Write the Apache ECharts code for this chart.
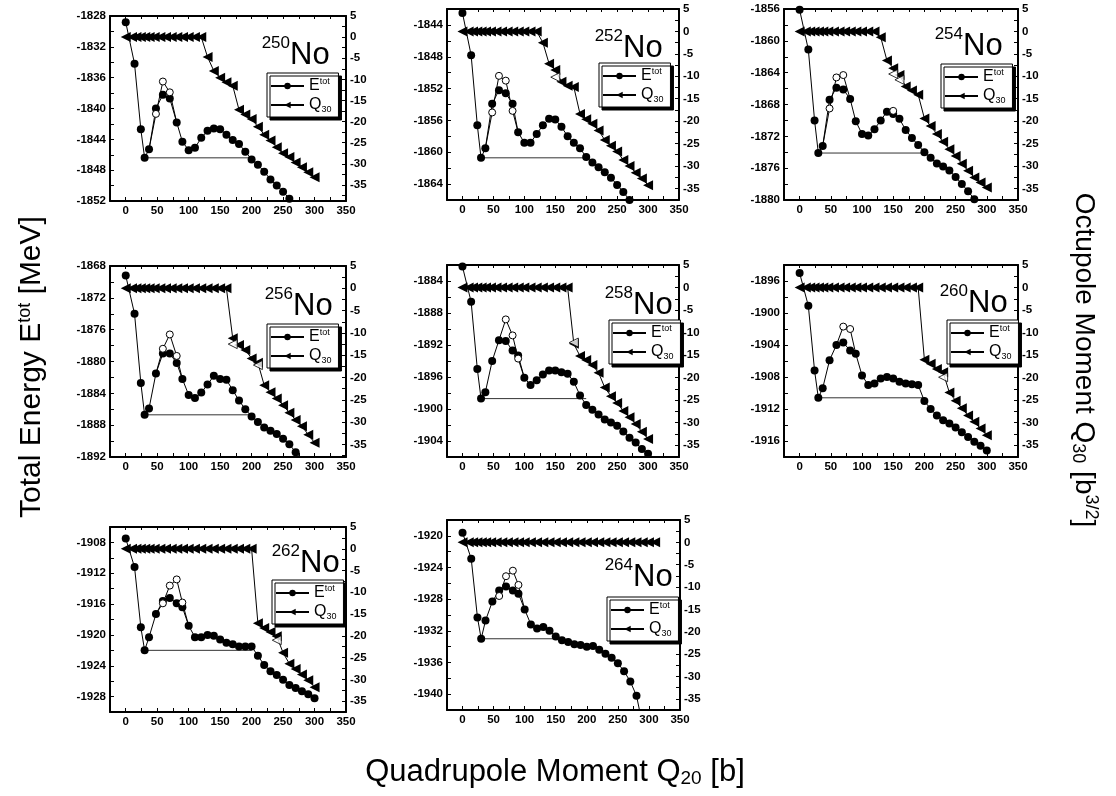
<!DOCTYPE html>
<html><head><meta charset="utf-8">
<script src="https://cdn.jsdelivr.net/npm/echarts@6/dist/echarts.min.js"></script>
<style>html,body{margin:0;padding:0;background:#fff}#c{width:1116px;height:796px}</style>
</head><body><div id="c"></div>
<script>
// ---------- DATA ----------
const X_E = [0,14,24,30,37,48,59,70,81,90,100,110,120,130,140,150,160,170,180,190,200,210,220,230,240,250,260,270,280,290,300];
const X_Q = [0,10,17,24,31,38,46,55,64,73,82,91,100,110,120,130,140,150,160,170,180,190,200,210,220,230,240,250,260,270,280,290,300,310];
const ISOTOPES = ['250','252','254','256','258','260','262','264'];

const E_250 = [-1828.8,-1834.2,-1842.7,-1846.4,-1845.3,-1840.0,-1838.2,-1838.7,-1841.8,-1844.3,-1845.4,-1845.1,-1843.8,-1842.9,-1842.6,-1842.7,-1843.4,-1844.1,-1844.6,-1845.6,-1846.6,-1847.3,-1848.2,-1849.2,-1850.0,-1850.8,-1851.7,-1852.6,-1853.5,-1854.4,-1855.3];
const E_252 = [-1842.5,-1847.8,-1856.6,-1860.7,-1859.5,-1853.9,-1852.2,-1852.6,-1853.9,-1857.5,-1858.8,-1858.8,-1857.7,-1856.6,-1855.8,-1855.9,-1856.8,-1858.0,-1858.8,-1859.5,-1860.6,-1861.3,-1861.9,-1862.5,-1863.2,-1864.1,-1865.0,-1866.0,-1867.0,-1868.0,-1869.0];
const E_254 = [-1856.1,-1861.1,-1870.0,-1874.1,-1873.2,-1867.4,-1865.9,-1866.1,-1867.3,-1870.1,-1871.7,-1871.9,-1871.1,-1870.0,-1868.9,-1869.2,-1869.8,-1871.2,-1872.2,-1873.1,-1874.0,-1874.7,-1875.4,-1875.8,-1876.3,-1877.1,-1878.0,-1878.9,-1879.9,-1881.0,-1882.0];
const E_256 = [-1869.2,-1874.0,-1882.7,-1886.7,-1885.9,-1881.5,-1879.0,-1879.0,-1880.2,-1882.2,-1884.2,-1884.6,-1883.9,-1882.9,-1881.8,-1882.2,-1882.3,-1883.6,-1884.9,-1886.0,-1886.9,-1887.6,-1888.3,-1888.7,-1889.1,-1889.7,-1890.4,-1891.4,-1892.4,-1893.4,-1894.4];
const E_258 = [-1882.2,-1886.6,-1895.0,-1898.7,-1897.9,-1894.0,-1891.4,-1891.5,-1892.7,-1893.3,-1896.1,-1897.0,-1896.4,-1895.7,-1895.2,-1895.2,-1895.4,-1895.6,-1896.6,-1898.3,-1899.5,-1900.1,-1900.7,-1901.3,-1901.7,-1902.1,-1902.8,-1903.6,-1904.2,-1905.0,-1905.6];
const E_260 = [-1895.0,-1899.1,-1907.2,-1910.6,-1909.4,-1905.9,-1904.0,-1903.7,-1904.7,-1905.1,-1907.8,-1909.0,-1908.8,-1908.2,-1908.0,-1908.2,-1908.6,-1908.8,-1908.9,-1909.0,-1911.0,-1912.0,-1912.8,-1913.4,-1913.8,-1914.3,-1914.9,-1915.5,-1916.1,-1916.6,-1917.2];
const E_262 = [-1907.5,-1911.2,-1919.0,-1922.0,-1920.3,-1917.3,-1915.6,-1915.2,-1915.9,-1916.4,-1918.8,-1920.3,-1920.3,-1920.0,-1920.1,-1920.6,-1921.0,-1921.2,-1921.5,-1921.5,-1921.5,-1922.7,-1923.9,-1924.7,-1925.2,-1925.8,-1926.5,-1926.9,-1927.3,-1927.7,-1928.2];
const E_264 = [-1919.6,-1922.9,-1930.3,-1933.0,-1930.7,-1928.3,-1926.9,-1926.4,-1926.9,-1927.3,-1929.3,-1931.2,-1931.7,-1931.5,-1932.0,-1932.7,-1933.2,-1933.4,-1933.7,-1933.8,-1934.0,-1933.9,-1934.4,-1934.9,-1935.4,-1936.1,-1937.1,-1938.4,-1940.2,-1944.0,-1948.0];

// open-circle branches (first and last points join the filled curve)
const OPEN_X_250 = [37,48,59,70,81];       const OPEN_Y_250 = [-1845.3,-1840.7,-1836.5,-1837.9,-1841.8];
const OPEN_X_252 = [37,48,59,70,81,90];    const OPEN_Y_252 = [-1859.5,-1855.0,-1850.4,-1851.0,-1854.8,-1857.5];
const OPEN_X_254 = [37,48,59,70,81];       const OPEN_Y_254 = [-1873.2,-1868.5,-1864.6,-1864.3,-1867.3];
const OPEN_X_256 = [48,59,70,81,90];       const OPEN_Y_256 = [-1881.5,-1878.4,-1876.6,-1879.3,-1882.2];
const OPEN_X_258 = [59,70,81,90,100];      const OPEN_Y_258 = [-1891.4,-1888.8,-1890.8,-1893.7,-1896.1];
const OPEN_X_260 = [59,70,81,90];          const OPEN_Y_260 = [-1904.0,-1901.7,-1902.0,-1905.1];
const OPEN_X_262 = [48,59,70,81,90,100];   const OPEN_Y_262 = [-1917.3,-1915.9,-1913.6,-1912.8,-1915.8,-1918.8];
const OPEN_X_264 = [48,59,70,81,90,100];   const OPEN_Y_264 = [-1928.3,-1927.6,-1925.1,-1924.4,-1926.2,-1929.3];
const OPEN2_X_254 = [140,150,160];         const OPEN2_Y_254 = [-1868.9,-1868.8,-1869.8];

const Q_250 = [0,0,0,0,0,0,0,0,0,0,0,0,0,0,0,-4.7,-8.0,-9.6,-10.7,-11.5,-17.2,-18.3,-19.4,-21.2,-23.1,-24.5,-26.1,-27.5,-28.4,-29.7,-30.8,-32.0,-33.2,null];
const Q_252 = [0,0,0,0,0,0,0,0,0,0,0,0,0,0,0,-2.5,-7.2,-8.6,-11.2,-12.1,-12.4,-18.4,-19.6,-20.6,-22.1,-24.2,-25.5,-26.8,-28.7,-30.0,-31.5,-32.8,-34.3,null];
const Q_254 = [0,0,0,0,0,0,0,0,0,0,0,0,0,0,0,-1.3,-6.5,-8.2,-9.7,-12.3,-13.2,-14.1,-19.4,-21.1,-22.9,-24.6,-26.3,-27.8,-29.5,-31.1,-32.6,-33.7,-34.8,null];
const Q_256 = [0,0,0,0,0,0,0,0,0,0,0,0,0,0,0,0,0,0,0,-11.2,-12.7,-13.8,-15.7,-16.7,-21.7,-23.3,-24.7,-26.2,-27.9,-29.5,-30.9,-32.8,-34.6,null];
const Q_258 = [0,0,0,0,0,0,0,0,0,0,0,0,0,0,0,0,0,0,0,0,-12.5,-15.2,-16.1,-17.2,-18.9,-22.2,-24.1,-25.6,-27.4,-28.8,-30.3,-32.0,-33.6,null];
const Q_260 = [0,0,0,0,0,0,0,0,0,0,0,0,0,0,0,0,0,0,0,0,0,0,-16.0,-16.9,-18.1,-18.8,-23.3,-25.1,-26.8,-28.4,-29.8,-31.3,-32.8,null];
const Q_262 = [0,0,0,0,0,0,0,0,0,0,0,0,0,0,0,0,0,0,0,0,0,0,0,-17.1,-18.2,-19.1,-20.1,-23.9,-26.4,-27.6,-28.9,-30.2,-31.8,null];
const Q_264 = [0,0,0,0,0,0,0,0,0,0,0,0,0,0,0,0,0,0,0,0,0,0,0,0,0,0,0,0,0,0,0,0,0,0];

// open triangles (alternative Q30 solutions)
const QOPEN_X_252 = [150];       const QOPEN_Y_252 = [-10.2];
const QOPEN_X_254 = [150,160];   const QOPEN_Y_254 = [-9.5,-10.8];
const QOPEN_X_256 = [170,210];   const QOPEN_Y_256 = [-12.5,-17.2];
const QOPEN_X_258 = [180];       const QOPEN_Y_258 = [-12.2];
const QOPEN_X_260 = [230];       const QOPEN_Y_260 = [-19.9];
const QOPEN_X_262 = [240];       const QOPEN_Y_262 = [-21.0];

// end of the horizontal barrier line (starts at the minimum, Q20 = 30)
const HLINE_END = [200,200,200,195,200,200,200,152];

// axis ranges
const E_RANGE = [[-1852,-1828],[-1866,-1842],[-1880,-1856],[-1892,-1868],[-1906,-1882],[-1918,-1894],[-1930,-1906],[-1942,-1918]];
const Q_MIN = [-38.8,-37.6,-37.6,-37.8,-37.6,-37.6,-37.5,-37.5];
const Q_MAX = 5;
const X_MIN = -25, X_MAX = 350;
const X_TICK_LABELS = [0,50,100,150,200,250,300,350];
const Q_TICK_LABELS = [5,0,-5,-10,-15,-20,-25,-30,-35];

// ---------- LAYOUT ----------
const GRID_BOX = [[110,16,236,185],[447,9,232,191],[784,9,234,191],
                  [110,266,236,191],[447,265,232,192],[784,265,234,192],
                  [110,527,236,185],[447,520,233,190]];
const LEGEND_POS = [[267,73],[599,63],[941,64],[267,324],[609,320],[947,320],[272,580],[607,597]];
const LABEL_POS = [[290,55],[623,48],[963,46],[293,306],[633,305],[968,303],[300,563],[633,577]];

const E_ALL = [E_250,E_252,E_254,E_256,E_258,E_260,E_262,E_264];
const Q_ALL = [Q_250,Q_252,Q_254,Q_256,Q_258,Q_260,Q_262,Q_264];
const OPEN_ALL = [
  [[OPEN_X_250,OPEN_Y_250]],[[OPEN_X_252,OPEN_Y_252]],[[OPEN_X_254,OPEN_Y_254],[OPEN2_X_254,OPEN2_Y_254]],
  [[OPEN_X_256,OPEN_Y_256]],[[OPEN_X_258,OPEN_Y_258]],[[OPEN_X_260,OPEN_Y_260]],
  [[OPEN_X_262,OPEN_Y_262]],[[OPEN_X_264,OPEN_Y_264]]];
const QOPEN_ALL = [null,[QOPEN_X_252,QOPEN_Y_252],[QOPEN_X_254,QOPEN_Y_254],[QOPEN_X_256,QOPEN_Y_256],
  [QOPEN_X_258,QOPEN_Y_258],[QOPEN_X_260,QOPEN_Y_260],[QOPEN_X_262,QOPEN_Y_262],null];

const FONT = '"Liberation Sans", Arial, Helvetica, sans-serif';
function steps(a,b,s){const r=[];for(let v=a;v<=b+1e-9;v+=s)r.push(+v.toFixed(3));return r;}

const grids=[],xAxes=[],yAxes=[],series=[],legends=[],graphics=[];
const axLine = {show:true, onZero:false, lineStyle:{color:'#000',width:2}};
const lblStyle = {fontSize:11.5, fontWeight:'bold', color:'#000', fontFamily:FONT, formatter:v=>String(v)};

ISOTOPES.forEach((iso,i)=>{
  const g = GRID_BOX[i];
  grids.push({left:g[0], top:g[1], width:g[2], height:g[3], show:false});
  const xa = {type:'value', gridIndex:i, min:X_MIN, max:X_MAX, splitLine:{show:false}, axisLine:axLine};
  xAxes.push(Object.assign({}, xa, {position:'bottom',
    axisTick:{inside:true, length:4, customValues:steps(0,350,25), lineStyle:{color:'#000',width:1}},
    axisLabel:Object.assign({customValues:X_TICK_LABELS, margin:4}, lblStyle)}));
  xAxes.push(Object.assign({}, xa, {position:'top',
    axisTick:{inside:true, length:3, customValues:steps(0,350,25), lineStyle:{color:'#000',width:1}},
    axisLabel:{show:false}}));
  const r = E_RANGE[i];
  yAxes.push({type:'value', gridIndex:i, position:'left', min:r[0], max:r[1], splitLine:{show:false}, axisLine:axLine,
    axisTick:{inside:true, length:4, customValues:steps(Math.ceil(r[0]/2)*2, r[1], 2), lineStyle:{color:'#000',width:1}},
    axisLabel:Object.assign({customValues:steps(Math.ceil(r[0]/4)*4, r[1], 4), margin:4}, lblStyle)});
  yAxes.push({type:'value', gridIndex:i, position:'right', min:Q_MIN[i], max:Q_MAX, splitLine:{show:false}, axisLine:axLine,
    axisTick:{inside:true, length:4, customValues:steps(Math.ceil(Q_MIN[i]/2.5)*2.5, Q_MAX, 2.5), lineStyle:{color:'#000',width:1}},
    axisLabel:Object.assign({customValues:Q_TICK_LABELS, margin:4}, lblStyle)});

  const E = E_ALL[i], Q = Q_ALL[i];
  const xi = 2*i, yl = 2*i, yr = 2*i+1;
  series.push({type:'line', name:'h'+i, xAxisIndex:xi, yAxisIndex:yl, symbol:'none', silent:true,
    data:[[X_E[3],E[3]],[HLINE_END[i],E[3]]], lineStyle:{color:'#333',width:1}, z:2});
  series.push({type:'line', name:'Q'+i, xAxisIndex:xi, yAxisIndex:yr,
    data:X_Q.map((x,k)=>[x,Q[k]]).filter(d=>d[1]!==null),
    symbol:'triangle', symbolRotate:90, symbolSize:10, itemStyle:{color:'#000'}, lineStyle:{color:'#000',width:1}, z:3});
  if (QOPEN_ALL[i]) {
    const [qx,qy] = QOPEN_ALL[i];
    series.push({type:'scatter', name:'qo'+i, xAxisIndex:xi, yAxisIndex:yr, data:qx.map((x,k)=>[x,qy[k]]),
      symbol:'triangle', symbolRotate:90, symbolSize:9, itemStyle:{color:'#fff',borderColor:'#000',borderWidth:1}, z:4});
  }
  series.push({type:'line', name:'E'+i, xAxisIndex:xi, yAxisIndex:yl, data:X_E.map((x,k)=>[x,E[k]]),
    symbol:'circle', symbolSize:8, itemStyle:{color:'#000'}, lineStyle:{color:'#000',width:1}, z:3});
  OPEN_ALL[i].forEach((seg,s)=>{
    const [ox,oy] = seg;
    series.push({type:'line', name:'eo'+i+'_'+s, xAxisIndex:xi, yAxisIndex:yl,
      data:ox.map((x,k)=>({value:[x,oy[k]], symbol:(k===0||k===ox.length-1)?'none':'circle'})),
      symbolSize:7, itemStyle:{color:'#fff',borderColor:'#000',borderWidth:1}, lineStyle:{color:'#000',width:1}, z:4});
  });

  legends.push({data:['E'+i,'Q'+i], left:LEGEND_POS[i][0], top:LEGEND_POS[i][1], orient:'vertical',
    itemWidth:33, itemHeight:8, itemGap:3, padding:[4,7,3,3], selectedMode:false,
    backgroundColor:'#fff', borderColor:'#000', borderWidth:1, borderRadius:0,
    shadowColor:'#000', shadowOffsetX:3, shadowOffsetY:3, shadowBlur:0,
    formatter:n=> n[0]==='E' ? '{m|E}{sp|tot}' : '{m|Q}{sb|30}',
    textStyle:{color:'#000', fontFamily:FONT, rich:{
      m:{fontSize:16, fontFamily:FONT, color:'#000', lineHeight:19},
      sp:{fontSize:9, fontFamily:FONT, color:'#000', padding:[0,0,9,0]},
      sb:{fontSize:9, fontFamily:FONT, color:'#000', padding:[9,0,0,0]}}}});

  const lp = LABEL_POS[i];
  graphics.push({type:'text', x:lp[0], y:lp[1], silent:true, style:{text:'No', font:'31px '+FONT, fill:'#000',
    align:'left', textAlign:'left', verticalAlign:'middle', textVerticalAlign:'middle'}});
  graphics.push({type:'text', x:lp[0], y:lp[1]-12, silent:true, style:{text:iso, font:'17px '+FONT, fill:'#000',
    align:'right', textAlign:'right', verticalAlign:'middle', textVerticalAlign:'middle'}});
});

function titleText(x,y,rot,text,rich){
  return {type:'text', x:x, y:y, rotation:rot, silent:true,
    style:{text:text, rich:rich, fill:'#000', font:'30px '+FONT,
      align:'center', textAlign:'center', verticalAlign:'middle', textVerticalAlign:'middle'}};
}
graphics.push(titleText(32,367,Math.PI/2,'{a|Total Energy E}{s|tot}{a| [MeV]}',
  {a:{fontSize:30,fontFamily:FONT,fill:'#000'}, s:{fontSize:18,fontFamily:FONT,fill:'#000',padding:[0,0,14,0]}}));
graphics.push(titleText(1084,360,-Math.PI/2,'{a|Octupole Moment Q}{b|30}{a| [b}{s|3/2}{a|]}',
  {a:{fontSize:28,fontFamily:FONT,fill:'#000'}, b:{fontSize:18,fontFamily:FONT,fill:'#000',padding:[12,0,0,0]},
   s:{fontSize:18,fontFamily:FONT,fill:'#000',padding:[0,0,13,0]}}));
graphics.push(titleText(555,772,0,'{a|Quadrupole Moment Q}{b|20}{a| [b]}',
  {a:{fontSize:31,fontFamily:FONT,fill:'#000'}, b:{fontSize:19,fontFamily:FONT,fill:'#000',padding:[13,0,0,0]}}));

const chart = echarts.init(document.getElementById('c'));
chart.setOption({animation:false, backgroundColor:'#fff', grid:grids, xAxis:xAxes, yAxis:yAxes,
  series:series, legend:legends, graphic:graphics});
</script></body></html>
